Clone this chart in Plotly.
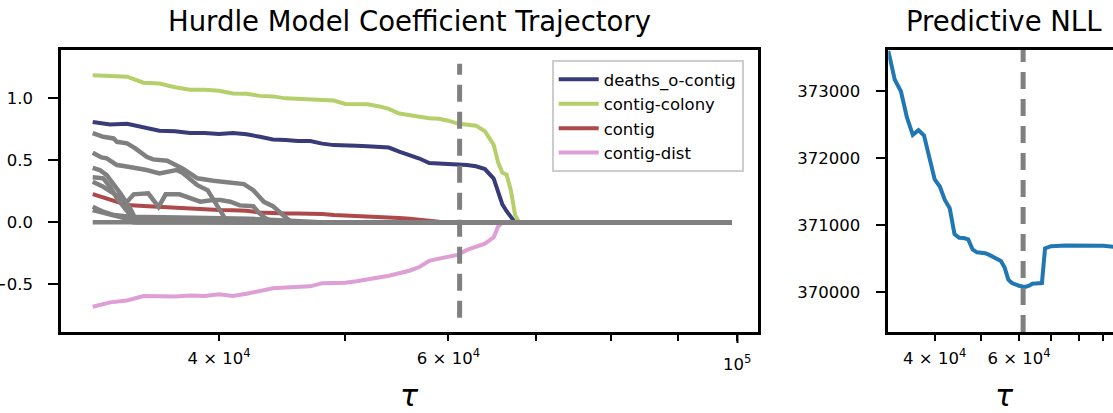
import plotly.graph_objects as go

# ---------------- data ----------------
tau_coef = [32000, 33000, 34000, 35000, 36000, 37000, 38000, 39000, 40000, 41000,
            42000, 43000, 44000, 45000, 46000, 47000, 48000, 49000, 50000, 51000,
            52000, 53000, 54000, 55000, 56000, 57000, 58000, 59000, 60000, 61000,
            62000, 63000, 64000, 65000, 65500, 66000, 66500, 67000, 67500, 68000,
            69000, 70000, 75000, 80000, 85000, 90000, 95000, 99000]

coef_deaths_o_contig = [0.81, 0.79, 0.795, 0.766, 0.739, 0.735, 0.72, 0.72, 0.712, 0.72,
                        0.71, 0.69, 0.669, 0.665, 0.656, 0.656, 0.635, 0.623, 0.623, 0.618,
                        0.614, 0.612, 0.603, 0.57, 0.545, 0.515, 0.478, 0.474, 0.472, 0.47,
                        0.462, 0.452, 0.43, 0.353, 0.235, 0.145, 0.09, 0.04, 0.0, 0.0,
                        0.0, 0.0, 0.0, 0.0, 0.0, 0.0, 0.0, 0.0]
coef_contig_colony = [1.187, 1.18, 1.175, 1.126, 1.12, 1.09, 1.07, 1.07, 1.062, 1.04,
                      1.037, 1.02, 1.016, 1.0, 0.995, 0.99, 0.984, 0.983, 0.955, 0.953,
                      0.952, 0.937, 0.915, 0.878, 0.865, 0.85, 0.84, 0.835, 0.82, 0.797,
                      0.79, 0.78, 0.735, 0.625, 0.485, 0.40, 0.385, 0.26, 0.06, 0.0,
                      0.0, 0.0, 0.0, 0.0, 0.0, 0.0, 0.0, 0.0]
coef_contig = [0.228, 0.185, 0.14, 0.133, 0.125, 0.117, 0.11, 0.103, 0.099, 0.097,
               0.094, 0.08, 0.072, 0.072, 0.072, 0.072, 0.068, 0.06, 0.057, 0.053,
               0.048, 0.045, 0.04, 0.035, 0.03, 0.02, 0.01, 0.005, 0.0, 0.0,
               0.0, 0.0, 0.0, 0.0, 0.0, 0.0, 0.0, 0.0, 0.0, 0.0,
               0.0, 0.0, 0.0, 0.0, 0.0, 0.0, 0.0, 0.0]
coef_contig_dist = [-0.68, -0.645, -0.63, -0.594, -0.595, -0.597, -0.59, -0.594, -0.58, -0.594,
                    -0.575, -0.55, -0.532, -0.525, -0.522, -0.516, -0.49, -0.49, -0.487, -0.475,
                    -0.46, -0.448, -0.43, -0.41, -0.39, -0.36, -0.31, -0.292, -0.278, -0.262,
                    -0.222, -0.197, -0.172, -0.12, -0.035, 0.0, 0.0, 0.0, 0.0, 0.0,
                    0.0, 0.0, 0.0, 0.0, 0.0, 0.0, 0.0, 0.0]

# other (unlabelled) coefficients, each with its own knots
gray_tau_a = [32000, 32600, 33200, 33400, 34000, 34500, 35200, 35600, 36500, 37100, 37500, 38000,
              38500, 39600, 40300, 41800, 42500, 43300, 44000, 44600, 45100, 45500, 99000]
gray_val_a = [0.72, 0.69, 0.677, 0.65, 0.637, 0.597, 0.529, 0.508, 0.497, 0.462, 0.435, 0.395,
              0.355, 0.336, 0.328, 0.309, 0.26, 0.166, 0.131, 0.072, 0.032, 0.0, 0.0]
gray_tau_b = [32000, 32500, 32800, 33400, 33800, 34400, 35200, 36000, 36500, 37100, 37500, 38000,
              38500, 39200, 39600, 40100, 40300, 40600, 99000]
gray_val_b = [0.561, 0.524, 0.516, 0.462, 0.454, 0.443, 0.422, 0.395, 0.408, 0.422, 0.40, 0.355,
              0.30, 0.26, 0.18, 0.099, 0.045, 0.0, 0.0]
gray_tau_c = [32000, 32400, 32800, 33200, 33600, 34000, 34300, 34600, 99000]
gray_val_c = [0.44, 0.422, 0.381, 0.314, 0.234, 0.153, 0.086, 0.0, 0.0]
gray_tau_d = [32000, 32600, 33000, 33400, 33800, 34200, 34400, 99000]
gray_val_d = [0.363, 0.355, 0.287, 0.194, 0.126, 0.059, 0.0, 0.0]
gray_tau_e = [32000, 32600, 33200, 34000, 34400, 35300, 35950, 36400, 37300, 38000, 38700, 39600,
              40100, 40800, 41500, 42500, 42900, 43400, 44000, 99000]
gray_val_e = [0.328, 0.287, 0.234, 0.165, 0.226, 0.234, 0.125, 0.226, 0.226, 0.20, 0.167, 0.18,
              0.18, 0.167, 0.137, 0.13, 0.08, 0.035, 0.0, 0.0]
gray_tau_f = [32000, 32600, 33200, 34200, 37300, 42200, 46200, 47800, 99000]
gray_val_f = [0.126, 0.086, 0.059, 0.045, 0.04, 0.03, 0.01, 0.0, 0.0]
gray_tau_g = [32000, 33000, 34000, 36000, 38700, 40100, 99000]
gray_val_g = [0.10, 0.06, 0.03, 0.02, 0.01, 0.0, 0.0]
gray_tau_h = [32000, 99000]
gray_val_h = [0.0, 0.0]

tau_nll = [32000, 33000, 34000, 35000, 36000, 37000, 38000, 39000, 40000, 41000,
           42000, 43000, 44000, 45000, 46000, 47000, 48000, 49000, 50000, 51000,
           52000, 53000, 54000, 55000, 56000, 57000, 58000, 59000, 60000, 61000,
           62000, 63000, 64000, 65000, 66000, 67000, 68000, 69000, 70000, 75000,
           80000, 85000, 90000, 95000, 99000]
nll = [373600, 373175, 373000, 372610, 372350, 372420, 372340, 372000, 371685, 371580,
       371380, 371255, 370870, 370815, 370812, 370790, 370640, 370598, 370598, 370585,
       370560, 370530, 370500, 370470, 370370, 370190, 370140, 370115, 370100, 370088,
       370085, 370100, 370130, 370135, 370135, 370140, 370655, 370680, 370690, 370700,
       370700, 370700, 370695, 370680, 370675]

tau_star = 61200

coef_names = ["deaths_o-contig", "contig-colony", "contig", "contig-dist"]
coef_colors = ["#393b79", "#b5cf6b", "#ad494a", "#de9ed6"]
coef_values = [coef_deaths_o_contig, coef_contig_colony, coef_contig, coef_contig_dist]
gray_paths = [(gray_tau_a, gray_val_a), (gray_tau_b, gray_val_b), (gray_tau_c, gray_val_c),
              (gray_tau_d, gray_val_d), (gray_tau_e, gray_val_e), (gray_tau_f, gray_val_f),
              (gray_tau_g, gray_val_g), (gray_tau_h, gray_val_h)]

x_tickvals = [40000, 60000, 100000]
x_ticktext = ["4 × 10<sup>4</sup>", "6 × 10<sup>4</sup>", ""]
x_major_value = 100000
x_major_text = "10<sup>5</sup>"
x_minor = [50000, 70000, 80000, 90000]

# ---------------- figure ----------------
W, H = 1113, 413
FONT = "DejaVu Sans"
fig = go.Figure()

for name, col, vals in zip(coef_names, coef_colors, coef_values):
    fig.add_trace(go.Scatter(x=tau_coef, y=vals, mode="lines", name=name,
                             legendgroup=name,
                             line=dict(color=col, width=4), xaxis="x", yaxis="y"))
for t, v in gray_paths:
    fig.add_trace(go.Scatter(x=t, y=v, mode="lines", showlegend=False,
                             line=dict(color="#808080", width=4.5), xaxis="x", yaxis="y"))

fig.add_trace(go.Scatter(x=tau_nll, y=nll, mode="lines", showlegend=False,
                         line=dict(color="#1f77b4", width=4), xaxis="x2", yaxis="y2"))

ydom = [1 - 332 / H, 1 - 50 / H]
axis_common = dict(showline=True, linewidth=2.5, linecolor="black", showgrid=False,
                   zeroline=False, ticks="outside", tickwidth=2, tickcolor="black",
                   automargin=False,
                   tickfont=dict(family=FONT, size=16.5, color="black"))

fig.update_layout(
    width=W, height=H,
    margin=dict(l=0, r=0, t=0, b=0),
    paper_bgcolor="white", plot_bgcolor="white",
    font=dict(family=FONT, color="black"),
    xaxis=dict(domain=[61 / W, 758.3 / W], type="log", range=[4.4808, 5.016],
               anchor="y", mirror=True, tickmode="array", tickvals=x_tickvals,
               ticktext=x_ticktext, ticklen=6, ticklabelstandoff=3,
               minor=dict(tickmode="array", tickvals=x_minor, ticks="outside", ticklen=6,
                          tickwidth=2, tickcolor="black", showgrid=False),
               **axis_common),
    yaxis=dict(domain=ydom, range=[-0.884, 1.39], anchor="x", mirror=True,
               tickmode="array", tickvals=[-0.5, 0.0, 0.5, 1.0], tickformat=".1f",
               ticklen=10, ticklabelstandoff=12, **axis_common),
    xaxis2=dict(domain=[888.3 / W, 1.0], type="log", range=[4.50515, 4.9745],
                anchor="y2", mirror=True, tickmode="array", tickvals=x_tickvals[:2],
                ticktext=x_ticktext[:2], ticklen=6, ticklabelstandoff=3,
                minor=dict(tickmode="array", tickvals=x_minor, ticks="outside", ticklen=6,
                           tickwidth=2, tickcolor="black", showgrid=False),
                **axis_common),
    yaxis2=dict(domain=ydom, range=[369410, 373615], anchor="x2", mirror=False,
                tickmode="array", tickvals=[370000, 371000, 372000, 373000], tickformat="d",
                ticklen=10, ticklabelstandoff=12, **axis_common),
    legend=dict(x=551.7 / W, y=1 - 60 / H, xanchor="left", yanchor="top",
                bgcolor="white", bordercolor="#cccccc", borderwidth=2,
                font=dict(family=FONT, size=16.5, color="black"),
                tracegroupgap=0, itemwidth=40),
)

dash = "17px,10px"
fig.add_shape(type="line", xref="x", yref="y", x0=tau_star, x1=tau_star, y0=-0.77, y1=1.28,
              line=dict(color="#808080", width=5, dash=dash), layer="above")
fig.add_shape(type="line", xref="x2", yref="y2 domain", x0=tau_star, x1=tau_star, y0=0, y1=1,
              line=dict(color="#808080", width=5, dash=dash), layer="above")
# longer major tick at 10^5
fig.add_shape(type="line", xref="x", yref="paper", x0=x_major_value, x1=x_major_value,
              y0=1 - 332 / H, y1=1 - 343 / H, line=dict(color="black", width=2))
# label of the major tick (sits a little lower, as the major tick is longer)
fig.add_annotation(text=x_major_text, xref="x", yref="paper", x=5, y=1 - 363 / H,
                   xanchor="center", yanchor="middle", showarrow=False,
                   font=dict(family=FONT, size=16.5, color="black"))

fig.add_annotation(text="Hurdle Model Coefficient Trajectory", xref="paper", yref="paper",
                   x=(61 + 758.3) / 2 / W, y=1 - 21 / H, xanchor="center", yanchor="middle",
                   showarrow=False, font=dict(family=FONT, size=27.5, color="black"))
fig.add_annotation(text="Predictive NLL", xref="paper", yref="paper",
                   x=1004 / W, y=1 - 21 / H, xanchor="center", yanchor="middle",
                   showarrow=False, font=dict(family=FONT, size=27.5, color="black"))
fig.add_annotation(text="<i>τ</i>", xref="paper", yref="paper",
                   x=(61 + 758.3) / 2 / W, y=1 - 395 / H, xanchor="center", yanchor="middle",
                   showarrow=False, font=dict(family=FONT, size=30, color="black"))
fig.add_annotation(text="<i>τ</i>", xref="paper", yref="paper",
                   x=1004 / W, y=1 - 395 / H, xanchor="center", yanchor="middle",
                   showarrow=False, font=dict(family=FONT, size=30, color="black"))

fig.write_html("out.html")
